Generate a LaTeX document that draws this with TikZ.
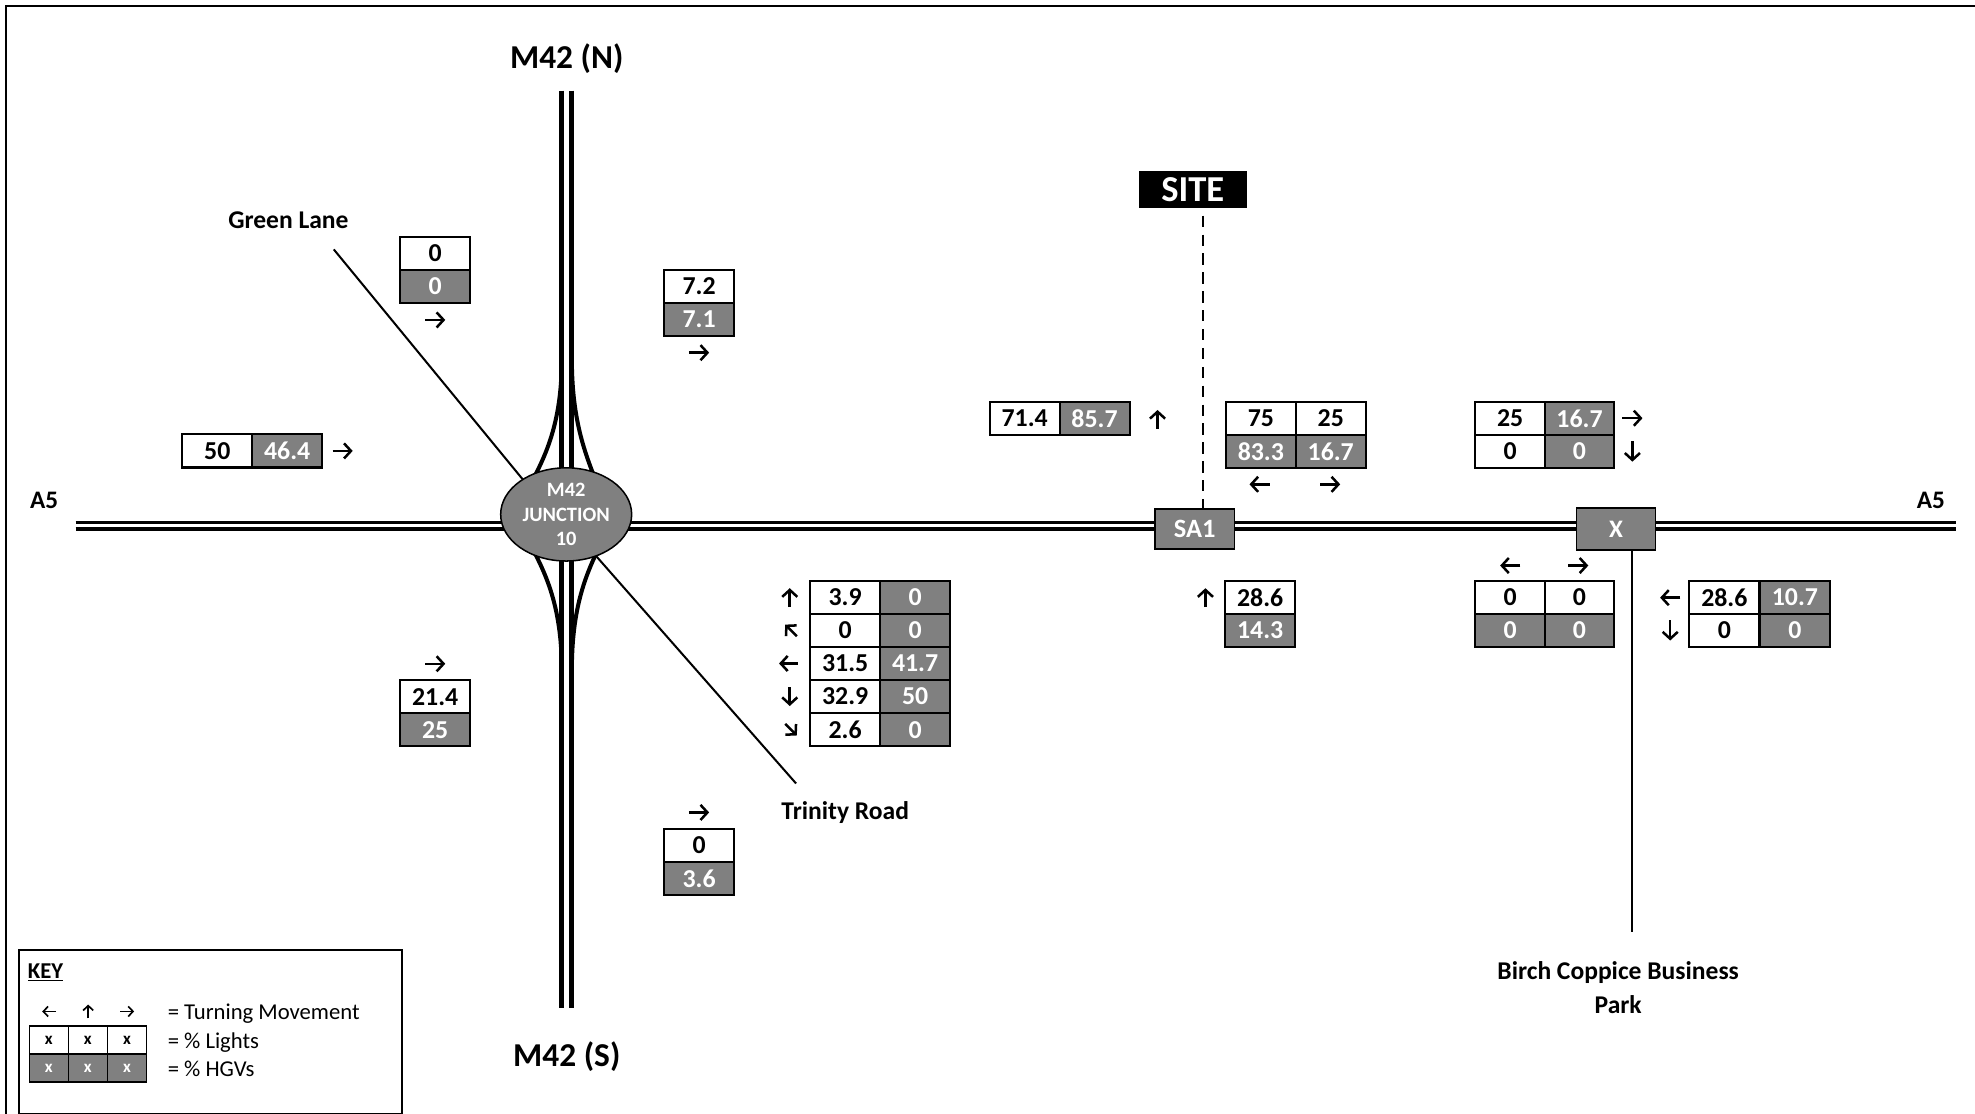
\documentclass[tikz,border=0pt]{standalone}
\usepackage{fontspec}
\setmainfont{Carlito}
\usetikzlibrary{shapes.geometric,arrows.meta}
\definecolor{cellgray}{RGB}{128,128,128}
\tikzset{
  frame/.style={line width=1.6pt},
  aroad/.style={line width=2.6pt},
  mroad/.style={line width=3.8pt},
  slip/.style={line width=3.2pt},
  sroad/.style={line width=1.6pt},
  cell/.style={draw=black,line width=1.6pt,minimum width=55.5pt,minimum height=26.3pt,inner sep=0pt,font=\bfseries\fontsize{20.5}{24}\selectfont},
  wc/.style={cell,fill=white,text=black},
  gc/.style={cell,fill=cellgray,text=white},
  kcell/.style={draw=black,line width=1.2pt,minimum width=31pt,minimum height=22.2pt,inner sep=0pt,font=\bfseries\fontsize{13.5}{15}\selectfont},
  kwc/.style={kcell,fill=white,text=black},
  kgc/.style={kcell,fill=cellgray,text=white},
  lbl/.style={inner sep=0pt,font=\bfseries\fontsize{20.3}{24}\selectfont},
  tarrow/.style={line width=2pt,-{Straight Barb[length=5.5pt,width=12pt]}},
  karrow/.style={line width=1.3pt,-{Straight Barb[length=3.8pt,width=8pt]}},
  junc/.style={draw=black,line width=1.2pt,fill=cellgray},
  keytxt/.style={anchor=base west,inner sep=0pt,font=\fontsize{18}{20}\selectfont},
}
\newcommand\tarr[4]{\draw[tarrow,shift={(#1,#2)},rotate=#3] (-#4,0) -- (#4,0);}
\newcommand\karr[3]{\draw[karrow,shift={(#1,#2)},rotate=#3] (-5.5,0) -- (5.5,0);}
\begin{document}
\begin{tikzpicture}[x=1pt,y=-1pt]
\useasboundingbox (0,0) rectangle (1568,884);
% outer frame
\coordinate (fbl) at (5,900); \coordinate (ftl) at (5,5); \coordinate (ftr) at (1590,5);
\draw[frame] (fbl) -- (ftl) -- (ftr);
% A5
\coordinate (a5w1) at (60,414.6); \coordinate (a5e1) at (1553,414.6);
\coordinate (a5w2) at (60,420); \coordinate (a5e2) at (1553,420);
\draw[aroad] (a5w1) -- (a5e1);
\draw[aroad] (a5w2) -- (a5e2);
% M42
\coordinate (m1n) at (446,72); \coordinate (m1s) at (446,800);
\coordinate (m2n) at (454,72); \coordinate (m2s) at (454,800);
\draw[mroad] (m1n) -- (m1s);
\draw[mroad] (m2n) -- (m2s);
% slip roads
\draw[slip] (446,285) .. controls (446,330) and (436,356) .. (424,379);
\draw[slip] (454,285) .. controls (454,330) and (463,356) .. (472,379);
\draw[slip] (446,532) .. controls (446,487) and (436,461) .. (424,438);
\draw[slip] (454,532) .. controls (454,487) and (463,461) .. (474,438);
% Green Lane & Trinity Road
\coordinate (gls) at (265,198); \coordinate (gle) at (417,383);
\draw[sroad] (gls) -- (gle);
\coordinate (trs) at (472,440); \coordinate (tre) at (632,622);
\draw[sroad] (trs) -- (tre);
% junction
\node[junc,ellipse,minimum width=104pt,minimum height=74pt,inner sep=0pt] (j10) at (449.5,408.4) {};
\node[text=white,align=center,inner sep=0pt,font=\bfseries\fontsize{16.2}{19.7}\selectfont] (j10t) at (j10.center) {M42\\JUNCTION\\10};
% SITE
\node[fill=black,text=white,minimum width=86pt,minimum height=29pt,inner sep=0pt,font=\bfseries\fontsize{29}{30}\selectfont] (site) at (947,150.5) {SITE};
\node[junc,minimum width=63pt,minimum height=32pt,inner sep=0pt,text=white,font=\bfseries\fontsize{21}{24}\selectfont] (sa1) at (948.5,420) {SA1};
\coordinate (dx) at (955,0);
\draw[line width=2pt,dash pattern=on 9pt off 6pt,dash phase=-6pt] (site.south -| dx) -- (sa1.north -| dx);
% X junction
\node[junc,minimum width=62.5pt,minimum height=33pt,inner sep=0pt,text=white,font=\bfseries\fontsize{20}{24}\selectfont] (xj) at (1283,420) {X};
\coordinate (xl) at (1295.5,0); \coordinate (bcend) at (1295.5,740);
\draw[line width=2pt] (xj.south -| xl) -- (bcend);
% labels
\node[lbl,anchor=base,font=\bfseries\fontsize{26.5}{30}\selectfont] (m42n) at (450,54) {M42 (N)};
\node[lbl,anchor=base,font=\bfseries\fontsize{26.5}{30}\selectfont] (m42s) at (450,846.4) {M42 (S)};
\node[lbl,anchor=base,font=\bfseries\fontsize{20}{24}\selectfont] (a5w) at (35,403.5) {A5};
\node[lbl,anchor=base,font=\bfseries\fontsize{20}{24}\selectfont] (a5e) at (1533,404) {A5};
\node[lbl,anchor=base] (greenlane) at (229,181.5) {Green Lane};
\node[lbl,anchor=base] (trinity) at (671,650.6) {Trinity Road};
\node[lbl,anchor=base] (bcp1) at (1284.7,778) {Birch Coppice Business};
\node[lbl,anchor=base] (bcp2) at (1284.7,804.5) {Park};
% T1 Green Lane
\node[wc] (t1a) at (345.5,201.15) {0};
\node[gc] (t1b) at (345.5,227.45) {0};
\tarr{345.5}{254}{0}{8}
% T2
\node[wc] (t2a) at (555,227.15) {7.2};
\node[gc] (t2b) at (555,253.45) {7.1};
\tarr{555}{280}{0}{8}
% T3
\node[wc] (t3a) at (172.5,358) {50};
\node[gc] (t3b) at (228,358) {46.4};
\tarr{272}{358}{0}{8}
% T4
\tarr{345.5}{527}{0}{8}
\node[wc] (t4a) at (345.5,553.15) {21.4};
\node[gc] (t4b) at (345.5,579.45) {25};
% T5
\tarr{555}{645}{0}{8}
\node[wc] (t5a) at (555,671.15) {0};
\node[gc] (t5b) at (555,697.45) {3.6};
% T6 Trinity Road
\node[wc] (t6a1) at (671,474.15) {3.9};   \node[gc] (t6b1) at (726.5,474.15) {0};
\node[wc] (t6a2) at (671,500.45) {0};     \node[gc] (t6b2) at (726.5,500.45) {0};
\node[wc] (t6a3) at (671,526.75) {31.5};  \node[gc] (t6b3) at (726.5,526.75) {41.7};
\node[wc] (t6a4) at (671,553.05) {32.9};  \node[gc] (t6b4) at (726.5,553.05) {50};
\node[wc] (t6a5) at (671,579.35) {2.6};   \node[gc] (t6b5) at (726.5,579.35) {0};
\tarr{627}{474.5}{90}{7.5}
\tarr{628}{500.5}{135}{6.5}
\tarr{626}{526.75}{180}{7.5}
\tarr{627}{553}{270}{7.5}
\tarr{628}{579.3}{315}{6.5}
% T7
\node[wc] (t7a) at (813.5,332.15) {71.4};
\node[gc] (t7b) at (869,332.15) {85.7};
\tarr{919}{333}{90}{7.5}
% T8
\node[wc] (t8a1) at (1001,332.15) {75};   \node[wc] (t8a2) at (1056.5,332.15) {25};
\node[gc] (t8b1) at (1001,358.45) {83.3}; \node[gc] (t8b2) at (1056.5,358.45) {16.7};
\tarr{1000}{384.5}{180}{8}
\tarr{1056}{384.5}{0}{8}
% T9
\node[wc] (t9a1) at (1199,332.15) {25};   \node[gc] (t9b1) at (1254,332.15) {16.7};
\node[wc] (t9a2) at (1199,358.45) {0};    \node[gc] (t9b2) at (1254,358.45) {0};
\tarr{1296}{332}{0}{8}
\tarr{1296}{358.5}{270}{8}
% T10
\tarr{1199}{449}{180}{8}
\tarr{1253}{449}{0}{8}
\node[wc] (t10a1) at (1199,474.15) {0};   \node[wc] (t10a2) at (1254,474.15) {0};
\node[gc] (t10b1) at (1199,500.45) {0};   \node[gc] (t10b2) at (1254,500.45) {0};
% T11
\node[wc] (t11a1) at (1369,474.15) {28.6}; \node[gc] (t11b1) at (1425,474.15) {10.7};
\node[wc] (t11a2) at (1369,500.45) {0};    \node[gc] (t11b2) at (1425,500.45) {0};
\tarr{1326}{474.5}{180}{8}
\tarr{1326}{500.5}{270}{8}
% T12
\tarr{957}{474.5}{90}{7.5}
\node[wc] (t12a) at (1000.5,474.15) {28.6};
\node[gc] (t12b) at (1000.5,500.45) {14.3};
% KEY
\node[draw=black,line width=1.6pt,minimum width=304pt,minimum height=130pt,inner sep=0pt,anchor=north west] (keybox) at (14.5,753.6) {};
\node[anchor=base west,inner sep=0pt,font=\bfseries\fontsize{18}{20}\selectfont] (keyt) at (22,776.6) {\underline{KEY}};
\karr{39}{803}{180}
\karr{70}{803}{90}
\karr{101}{803}{0}
\node[kwc] (k1) at (38.8,825.7) {x}; \node[kwc] (k2) at (69.7,825.7) {x}; \node[kwc] (k3) at (100.8,825.7) {x};
\node[kgc] (k4) at (38.8,847.9) {x}; \node[kgc] (k5) at (69.7,847.9) {x}; \node[kgc] (k6) at (100.8,847.9) {x};
\node[keytxt] (kt1) at (133,809.3) {= Turning Movement};
\node[keytxt] (kt2) at (133,832.3) {= \% Lights};
\node[keytxt] (kt3) at (133,854.8) {= \% HGVs};
\end{tikzpicture}
\end{document}
